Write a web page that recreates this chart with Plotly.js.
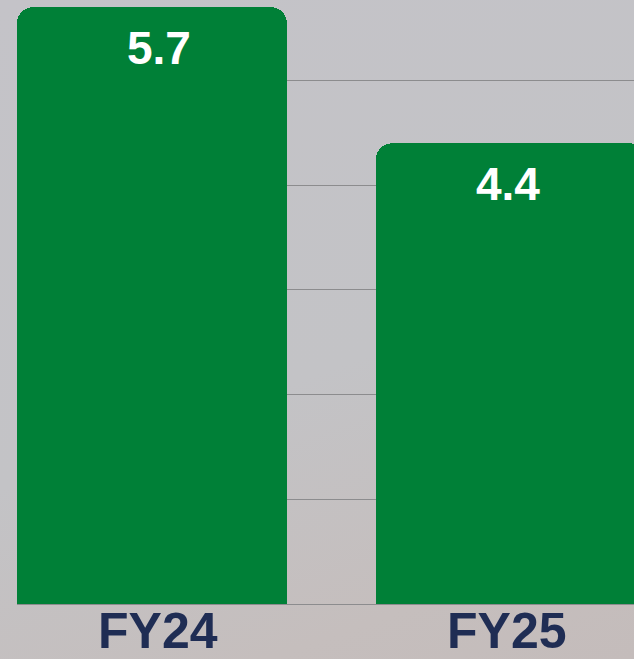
<!DOCTYPE html>
<html>
<head>
<meta charset="utf-8">
<script src="https://cdn.plot.ly/plotly-3.0.1.min.js"></script>
<style>
  html, body { margin: 0; padding: 0; }
  body {
    width: 634px; height: 659px; overflow: hidden;
    background: linear-gradient(160deg, #c4c3c8 0%, #c3c3c6 55%, #c5bebd 85%, #c4bcbb 100%);
  }
  #chart { width: 634px; height: 659px; }
</style>
</head>
<body>
<div id="chart"></div>
<script>
const categories = ["FY24", "FY25"];
const values = [5.7, 4.4];
const valueLabels = ["5.7", "4.4"];
const gridValues = [1, 2, 3, 4, 5];

const barTrace = {
  type: "bar",
  x: categories,
  y: values,
  width: 0.752,
  marker: { color: "#008037", cornerradius: 16, line: { width: 0 } },
  hoverinfo: "skip"
};

const valueFont = { family: "Liberation Sans, Arial, sans-serif", size: 46, color: "#ffffff", weight: 700 };
const valueAnnotations = categories.map((c, i) => ({
  x: c,
  xref: "x",
  y: values[i],
  yref: "y",
  yanchor: "top",
  xanchor: "center",
  yshift: -13,
  xshift: i === 0 ? 7 : -3,
  text: valueLabels[i],
  showarrow: false,
  font: valueFont
}));

const labelFont = { family: "Liberation Sans, Arial, sans-serif", size: 50, color: "#1f2d54", weight: 700 };
const categoryAnnotations = categories.map((c, i) => ({
  x: c,
  xref: "x",
  y: 0,
  yref: "paper",
  yanchor: "top",
  xanchor: "center",
  yshift: 3,
  xshift: i === 0 ? 6 : -4,
  text: c,
  showarrow: false,
  font: labelFont
}));

const layout = {
  width: 634,
  height: 659,
  margin: { l: 17, r: 0, t: 0, b: 55 },
  paper_bgcolor: "rgba(0,0,0,0)",
  plot_bgcolor: "rgba(0,0,0,0)",
  showlegend: false,
  bargap: 0,
  xaxis: {
    type: "category",
    range: [-0.376, 1.343],
    showgrid: false,
    zeroline: false,
    showline: false,
    ticks: "",
    showticklabels: false
  },
  yaxis: {
    range: [0, 5.769],
    tickmode: "array",
    tickvals: gridValues,
    showticklabels: false,
    showgrid: true,
    gridcolor: "#8c8c8e",
    gridwidth: 1,
    zeroline: true,
    zerolinecolor: "#8c8c8e",
    zerolinewidth: 1,
    showline: false,
    ticks: ""
  },
  annotations: valueAnnotations.concat(categoryAnnotations)
};

Plotly.newPlot("chart", [barTrace], layout, { staticPlot: true, displayModeBar: false });
</script>
</body>
</html>
